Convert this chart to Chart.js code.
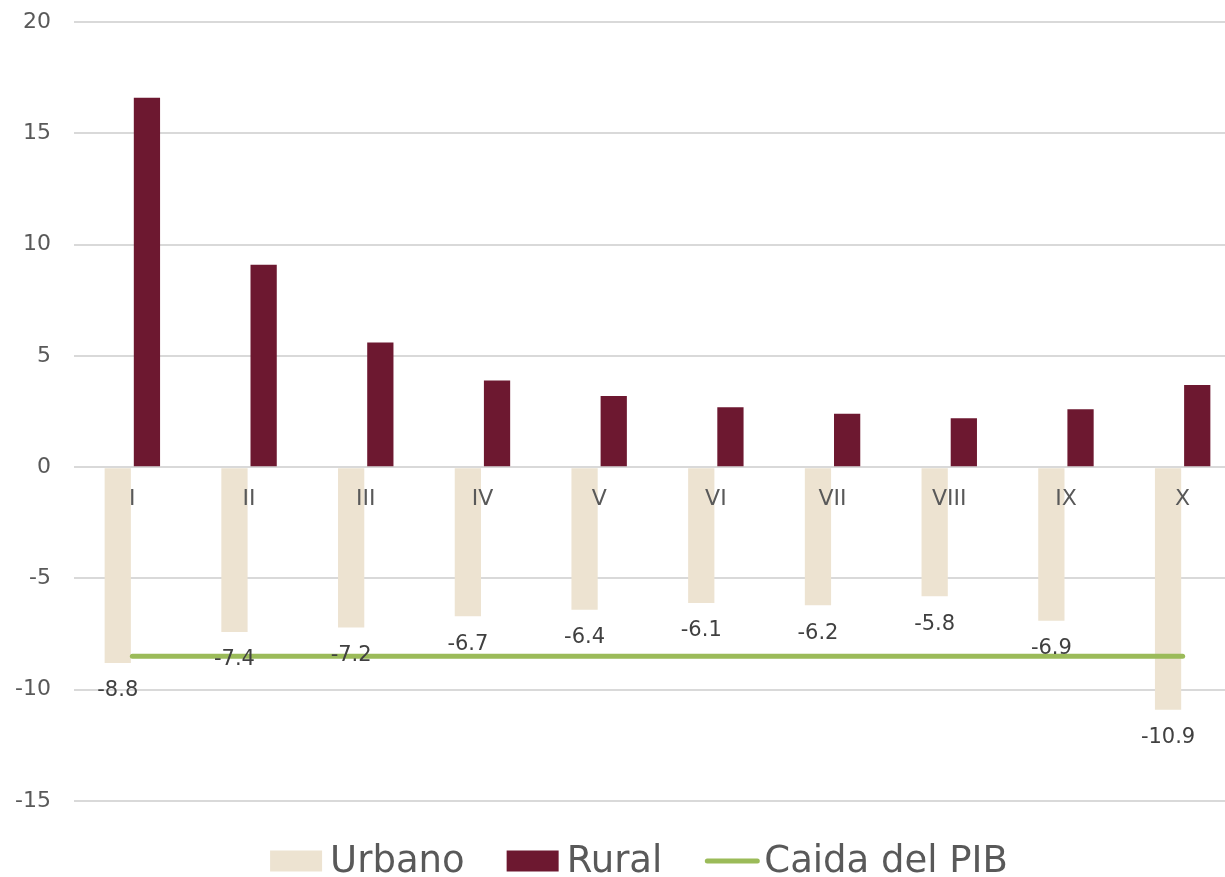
<!DOCTYPE html>
<html>
<head>
<meta charset="utf-8">
<script src="https://cdn.jsdelivr.net/npm/chart.js@4.4.1/dist/chart.umd.min.js"></script>
<style>
  html, body { margin: 0; padding: 0; background: #fff; overflow: hidden; }
  #wrap { width: 1225px; height: 877px; overflow: hidden; position: relative; }
  #box { position: absolute; left: 0; top: -14px; width: 1241px; height: 891px; }
</style>
</head>
<body>
<div id="wrap"><div id="box"><canvas id="chart"></canvas></div></div>
<script>
// Data
const deciles = ['I', 'II', 'III', 'IV', 'V', 'VI', 'VII', 'VIII', 'IX', 'X'];
const urbano = [-8.8, -7.4, -7.2, -6.7, -6.4, -6.1, -6.2, -5.8, -6.9, -10.9];
const rural = [16.6, 9.1, 5.6, 3.9, 3.2, 2.7, 2.4, 2.2, 2.6, 3.7];
const caidaPib = [-8.5, -8.5, -8.5, -8.5, -8.5, -8.5, -8.5, -8.5, -8.5, -8.5];
const yTicks = [20, 15, 10, 5, 0, -5, -10, -15];

const FONT = "'DejaVu Sans', sans-serif";
const GRAY = '#595959';

// Category names on the zero line and value labels under the Urbano bars,
// both drawn on top of the bars
const overlayLabels = {
    id: 'overlayLabels',
    afterDatasetsDraw(chart) {
        const ctx = chart.ctx;
        const xs = chart.scales.x;
        const ys = chart.scales.y;
        ctx.save();
        ctx.textAlign = 'center';
        ctx.textBaseline = 'middle';
        ctx.font = '22px ' + FONT;
        ctx.fillStyle = GRAY;
        deciles.forEach((d, i) => {
            ctx.fillText(d, xs.getPixelForValue(i), ys.getPixelForValue(0) + 32);
        });
        ctx.font = '21px ' + FONT;
        ctx.fillStyle = '#404040';
        chart.getDatasetMeta(0).data.forEach((bar, i) => {
            ctx.fillText(urbano[i].toFixed(1), bar.x, bar.y + 28);
        });
        ctx.restore();
    }
};

// Legend at the bottom, centred under the plot
const bottomLegend = {
    id: 'bottomLegend',
    afterDraw(chart) {
        const ctx = chart.ctx;
        const y = 875;
        ctx.save();
        ctx.font = '37px ' + FONT;
        ctx.textBaseline = 'middle';
        const items = chart.data.datasets;
        let total = 0;
        items.forEach((ds, i) => {
            total += 60 + ctx.measureText(ds.label).width + (i < items.length - 1 ? 42 : 0);
        });
        let x = 639 - total / 2;
        items.forEach((ds) => {
            if (ds.type === 'line') {
                ctx.strokeStyle = ds.borderColor;
                ctx.lineWidth = 5;
                ctx.lineCap = 'round';
                ctx.beginPath();
                ctx.moveTo(x + 3, y);
                ctx.lineTo(x + 53, y);
                ctx.stroke();
            } else {
                ctx.fillStyle = ds.backgroundColor;
                ctx.fillRect(x, y - 10.5, 52, 21);
            }
            x += 60;
            ctx.fillStyle = GRAY;
            ctx.fillText(ds.label, x, y + 1);
            x += ctx.measureText(ds.label).width + 42;
        });
        ctx.restore();
    }
};

new Chart(document.getElementById('chart'), {
    type: 'bar',
    data: {
        labels: deciles,
        datasets: [
            {
                label: 'Urbano',
                data: urbano,
                backgroundColor: '#EDE3D1',
                categoryPercentage: 0.5,
                barPercentage: 0.9,
                order: 1
            },
            {
                label: 'Rural',
                data: rural,
                backgroundColor: '#6D1830',
                categoryPercentage: 0.5,
                barPercentage: 0.9,
                order: 1
            },
            {
                type: 'line',
                label: 'Caida del PIB',
                data: caidaPib,
                borderColor: '#9BBB59',
                borderWidth: 5,
                borderCapStyle: 'round',
                pointRadius: 0,
                fill: false,
                order: 0
            }
        ]
    },
    options: {
        responsive: true,
        maintainAspectRatio: false,
        animation: false,
        layout: { padding: { top: 7, bottom: 76, left: 0, right: 0 } },
        plugins: {
            legend: { display: false },
            tooltip: { enabled: false }
        },
        scales: {
            x: {
                position: { y: 0 },
                grid: { display: false, drawTicks: false },
                border: { display: false },
                ticks: { display: false }
            },
            y: {
                min: -15,
                max: 20,
                afterBuildTicks(scale) {
                    scale.ticks = yTicks.map(v => ({ value: v }));
                },
                afterFit(scale) { scale.width = 74; },
                grid: { color: '#D9D9D9', lineWidth: 2, drawTicks: false },
                border: { display: false },
                ticks: {
                    color: GRAY,
                    font: { family: FONT, size: 22 },
                    padding: 23
                }
            }
        }
    },
    plugins: [overlayLabels, bottomLegend]
});
</script>
</body>
</html>
